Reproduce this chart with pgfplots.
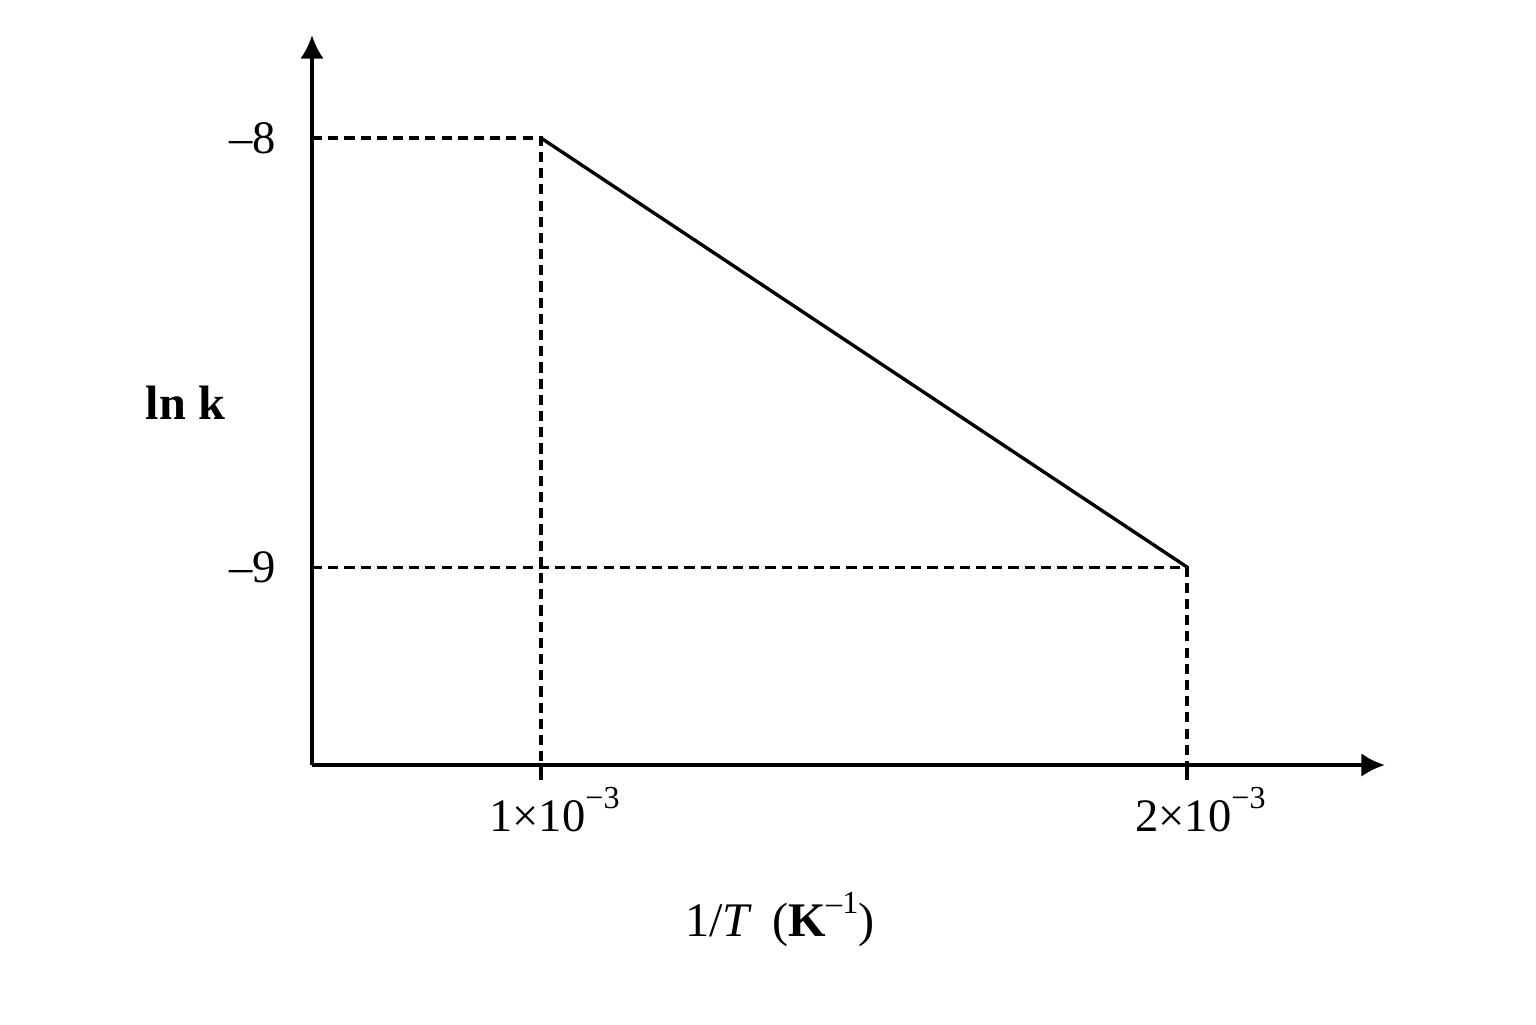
\documentclass[border=0pt]{standalone}
\usepackage{fontspec}
\setmainfont{Liberation Serif}
\usepackage{pgfplots}
\pgfplotsset{compat=1.18}
\usetikzlibrary{arrows.meta}
\newcommand{\supr}[1]{\raisebox{6.8pt}{\fontsize{9.5}{10}\selectfont #1}}
\begin{document}
\begin{tikzpicture}
\begin{axis}[
    name=ax,
    scale only axis,
    width=11.177cm, height=7.604cm,
    axis lines=left,
    axis line style={line width=1.2pt, -{Latex[length=7pt,width=7pt]}},
    xmin=0.6455, xmax=2.3065,
    ymin=-9.4615, ymax=-7.76,
    xtick={1,2},
    xticklabels={1×10\supr{−3}, 2×10\supr{−3}},
    ytick={-9,-8},
    yticklabels={–9,–8},
    tick align=outside,
    major tick length=4.4pt,
    xtick style={line width=1pt, black},
    ytick style={draw=none},
    tick label style={font=\fontsize{13.8}{16}\selectfont},
    xticklabel style={anchor=north, inner sep=0pt, yshift=-2pt, xshift=4pt},
    yticklabel style={anchor=east, inner sep=0pt, xshift=-6pt},
    xlabel={1/\textit{T}\, (\textbf{K}\supr{–1})},
    ylabel={\textbf{ln k}},
    label style={font=\fontsize{14.3}{16}\selectfont},
    xlabel style={at={(rel axis cs:0.436,-0.212)}, anchor=center},
    ylabel style={at={(rel axis cs:-0.118,0.496)}, anchor=center, rotate=-90},
    clip=false,
]
    % dashed guide lines
    \addplot[black, line width=0.9pt, dash pattern=on 3pt off 1.8pt] coordinates {
        (0.6455,-8) (1,-8) (1,-9.4615)
    };
    \addplot[black, line width=0.9pt, dash pattern=on 3pt off 1.8pt] coordinates {
        (0.6455,-9) (2,-9) (2,-9.4615)
    };
    % ln k vs 1/T
    \addplot[black, line width=1pt] coordinates {
        (1,-8) (2,-9)
    };
\end{axis}
\pgfresetboundingbox
\path ([shift={(-3.25cm,-2.698cm)}]ax.south west) rectangle ([shift={(12.75cm,7.969cm)}]ax.south west);
\end{tikzpicture}
\end{document}
